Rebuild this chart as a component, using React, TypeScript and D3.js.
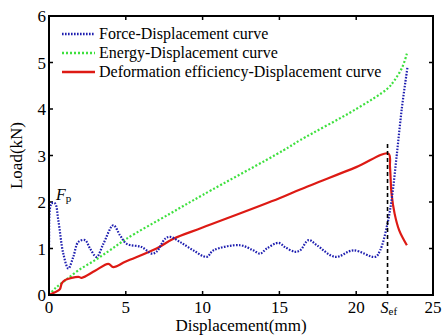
import * as d3 from "d3"

// Force-Displacement curve (kN vs mm)
const forceX = [0, 0, 0.17, 0.39, 0.61, 0.93, 1.26, 1.58, 1.91, 2.35, 2.67, 3.1, 3.54, 4.19, 4.63, 5.06, 6.04, 6.69, 7.0, 7.56, 7.88, 8.53, 9.4, 10.27, 10.7, 12.44, 13.3, 13.75, 14.18, 14.94, 15.37, 16.0, 16.35, 16.9, 17.44, 18.63, 19.82, 21.24, 21.56, 22.04, 22.33, 22.65, 22.98, 23.34]
const forceY = [0.04, 1.03, 1.97, 1.97, 1.6, 0.89, 0.57, 0.82, 1.14, 1.18, 1.0, 0.82, 1.1, 1.5, 1.28, 1.1, 1.03, 0.89, 0.93, 1.21, 1.25, 1.14, 0.96, 0.82, 0.96, 1.07, 0.96, 0.89, 1.0, 1.12, 1.03, 0.93, 0.96, 1.18, 1.07, 0.82, 0.96, 0.82, 0.96, 1.54, 2.11, 3.04, 4.04, 4.9]

// Energy-Displacement curve
const energyX = [0, 0.39, 1, 1.91, 3, 4, 5, 7.88, 10, 15.26, 16.35, 20, 22.04, 22.5, 23.0, 23.3]
const energyY = [0, 0.14, 0.3, 0.53, 0.75, 0.97, 1.2, 1.75, 2.15, 3.11, 3.33, 4.0, 4.44, 4.62, 4.9, 5.19]

// Deformation efficiency-Displacement curve
const effX = [0, 0.39, 0.7, 0.83, 1.04, 1.91, 2.13, 3.0, 3.86, 4.19, 5.0, 7.0, 8.1, 10, 15, 16.35, 20, 22.1, 22.2, 22.3, 22.5, 22.8, 23.3]
const effY = [0, 0.06, 0.12, 0.25, 0.32, 0.39, 0.37, 0.52, 0.67, 0.6, 0.72, 1.0, 1.21, 1.45, 2.08, 2.27, 2.75, 3.04, 2.75, 2.18, 1.75, 1.39, 1.07]

const xTicks = [0, 5, 10, 15, 20, 25]
const yTicks = [0, 1, 2, 3, 4, 5, 6]
const sef = 22.04
const sefTop = 3.3

const legendItems = [
  { label: "Force-Displacement curve", color: "#1f1fb0", dash: "1.6,1.4" },
  { label: "Energy-Displacement curve", color: "#3ee03e", dash: "2,2" },
  { label: "Deformation efficiency-Displacement curve", color: "#dd1a14", dash: "" },
]

const W = 442
const H = 335
const margin = { top: 16, right: 9, bottom: 40, left: 49 }
const font = "Liberation Serif, Times New Roman, serif"

export default function App() {
  const x = d3.scaleLinear().domain([0, 25]).range([margin.left, W - margin.right])
  const y = d3.scaleLinear().domain([0, 6]).range([H - margin.bottom, margin.top])

  const line = d3
    .line<[number, number]>()
    .x((d) => x(d[0]))
    .y((d) => y(d[1]))
    .curve(d3.curveCatmullRom.alpha(0.5))

  const straight = d3
    .line<[number, number]>()
    .x((d) => x(d[0]))
    .y((d) => y(d[1]))

  const force = forceX.map((v, i) => [v, forceY[i]] as [number, number])
  const energy = energyX.map((v, i) => [v, energyY[i]] as [number, number])
  const eff = effX.map((v, i) => [v, effY[i]] as [number, number])

  const x0 = x(0)
  const x1 = x(25)
  const y0 = y(0)
  const y1 = y(6)

  return (
    <svg width={W} height={H} style={{ position: "absolute", left: 0, top: 0, background: "#fff", fontFamily: font }}>
      <defs>
        <clipPath id="plot">
          <rect x={x0} y={y1} width={x1 - x0} height={y0 - y1} />
        </clipPath>
      </defs>

      {/* ticks on all four sides */}
      {xTicks.map((t) => (
        <g key={"xt" + t}>
          <line x1={x(t)} x2={x(t)} y1={y0} y2={y0 - 4} stroke="#000" strokeWidth={1.5} />
          <line x1={x(t)} x2={x(t)} y1={y1} y2={y1 + 4} stroke="#000" strokeWidth={1.5} />
          <text x={x(t)} y={y0 + 18} fontSize={17} textAnchor="middle" style={{ fontFamily: font }}>{t}</text>
        </g>
      ))}
      {yTicks.map((t) => (
        <g key={"yt" + t}>
          <line x1={x0} x2={x0 + 4} y1={y(t)} y2={y(t)} stroke="#000" strokeWidth={1.5} />
          <line x1={x1} x2={x1 - 4} y1={y(t)} y2={y(t)} stroke="#000" strokeWidth={1.5} />
          <text x={x0 - 3} y={y(t) + 6} fontSize={17} textAnchor="end" style={{ fontFamily: font }}>{t}</text>
        </g>
      ))}

      <g clipPath="url(#plot)" fill="none">
        <path d={line(energy) ?? ""} stroke={legendItems[1].color} strokeWidth={2.2} strokeDasharray={legendItems[1].dash} />
        <path d={line(eff) ?? ""} stroke={legendItems[2].color} strokeWidth={2.2} />
        <path d={line(force) ?? ""} stroke={legendItems[0].color} strokeWidth={2.2} strokeDasharray={legendItems[0].dash} />
        <path
          d={straight([[sef, 0], [sef, sefTop]]) ?? ""}
          stroke="#000"
          strokeWidth={1.6}
          strokeDasharray="4,3"
        />
      </g>

      <rect x={x0} y={y1} width={x1 - x0} height={y0 - y1} fill="none" stroke="#000" strokeWidth={2} />

      {/* legend */}
      {legendItems.map((it, i) => (
        <g key={it.label} transform={`translate(${x0 + 13},${y1 + 18 + i * 19})`}>
          <line x1={0} x2={33} y1={0} y2={0} stroke={it.color} strokeWidth={2.4} strokeDasharray={it.dash} />
          <text x={37} y={5} fontSize={16} style={{ fontFamily: font }}>{it.label}</text>
        </g>
      ))}

      {/* annotations */}
      <text x={x(0.45)} y={y(2.05)} fontSize={16} style={{ fontFamily: font }}>
        <tspan fontStyle="italic">F</tspan>
        <tspan fontSize={11} dy={2}>p</tspan>
      </text>
      <text x={x(sef) - 7} y={y0 + 18} fontSize={16} style={{ fontFamily: font }}>
        <tspan fontStyle="italic">S</tspan>
        <tspan fontSize={11} dy={2}>ef</tspan>
      </text>

      <text x={(x0 + x1) / 2} y={H - 4} fontSize={17} textAnchor="middle" style={{ fontFamily: font }}>Displacement(mm)</text>
      <text transform={`translate(22,${(y0 + y1) / 2}) rotate(-90)`} fontSize={17} textAnchor="middle" style={{ fontFamily: font }}>Load(kN)</text>
    </svg>
  )
}
